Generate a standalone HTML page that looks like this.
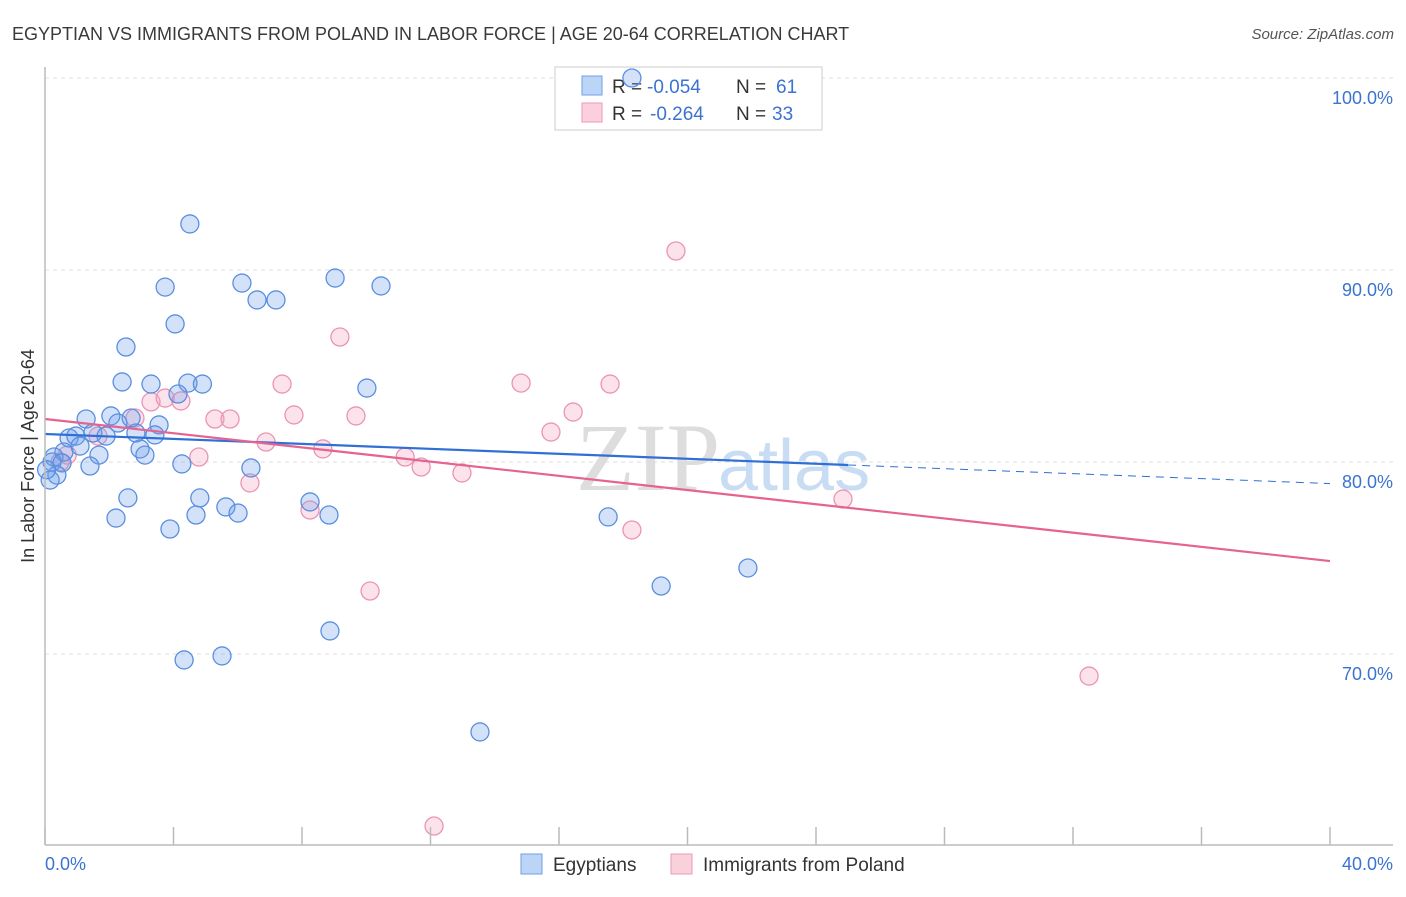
<!DOCTYPE html>
<html><head><meta charset="utf-8"><style>
body{margin:0;background:#fff;font-family:"Liberation Sans",sans-serif;}
</style></head><body>
<svg id="chart" width="1406" height="892" xmlns="http://www.w3.org/2000/svg">
<text x="12" y="40" font-size="18" fill="#3a3a3a">EGYPTIAN VS IMMIGRANTS FROM POLAND IN LABOR FORCE | AGE 20-64 CORRELATION CHART</text>
<text x="1394" y="39" font-size="15" fill="#555" font-style="italic" text-anchor="end">Source: ZipAtlas.com</text>
<g id="grid"></g>
<text x="720" y="490" font-size="96" fill="#ddd" text-anchor="end" font-family="Liberation Serif,serif">ZIP</text>
<text x="718" y="490" font-size="72" fill="#c8dcf3">atlas</text>
<g>
<rect x="555" y="67" width="267" height="63" fill="#fff" stroke="#ccc"/>
<rect x="582" y="76" width="20" height="19" fill="#bcd4f5" stroke="#6f9fe6"/>
<rect x="582" y="103" width="20" height="19" fill="#fbd0dd" stroke="#ee9ab6"/>
<text x="612" y="93" font-size="19" fill="#333">R = <tspan fill="#3b73d1" x="647">-0.054</tspan><tspan x="736">N =</tspan><tspan fill="#3b73d1" x="776">61</tspan></text>
<text x="612" y="120" font-size="19" fill="#333">R = <tspan fill="#3b73d1" x="650">-0.264</tspan><tspan x="736">N =</tspan><tspan fill="#3b73d1" x="772">33</tspan></text>
</g>
<g id="marks"></g>
<line x1="45" y1="67" x2="45" y2="845" stroke="#bbb" stroke-width="1.5"/>
<line x1="45" y1="845" x2="1393" y2="845" stroke="#bbb" stroke-width="1.5"/>
<text transform="translate(34,456) rotate(-90)" font-size="18" fill="#333" text-anchor="middle">In Labor Force | Age 20-64</text>
<text x="45" y="870" font-size="18" fill="#3b73d1">0.0%</text>
<text x="1393" y="870" font-size="18" fill="#3b73d1" text-anchor="end">40.0%</text>
<g>
<rect x="521" y="854" width="21" height="20" fill="#bcd4f5" stroke="#6f9fe6"/>
<text x="553" y="871" font-size="19" fill="#333">Egyptians</text>
<rect x="671" y="854" width="21" height="20" fill="#fbd0dd" stroke="#ee9ab6"/>
<text x="703" y="871" font-size="19" fill="#333">Immigrants from Poland</text>
</g>
</svg>
<script>
const yTicks=[70,80,90,100];
const yTickLabels=["70.0%","80.0%","90.0%","100.0%"];
const xTicks=[0,4,8,12,16,20,24,28,32,36,40];
const blueX=[18.27,4.51,3.74,6.13,6.60,7.19,9.03,10.46,4.05,2.52,2.40,3.30,4.45,4.90,4.14,10.02,1.28,2.05,2.68,3.55,2.27,0.75,0.96,1.49,1.90,2.83,3.42,1.09,0.59,0.28,1.68,2.96,3.11,0.22,0.53,1.40,4.26,6.41,0.37,0.16,2.58,4.82,8.25,5.63,6.01,4.70,2.21,8.84,17.53,3.89,19.18,21.88,8.87,4.33,5.51,13.54,0.05];
const blueY=[100.0,92.40,89.11,89.32,88.44,88.44,89.58,89.17,87.19,85.99,84.17,84.06,84.11,84.06,83.54,83.85,82.24,82.40,82.29,81.93,82.03,81.25,81.35,81.51,81.35,81.51,81.41,80.83,80.52,80.26,80.36,80.68,80.36,80.00,79.95,79.79,79.90,79.69,79.32,79.06,78.13,78.13,77.92,77.66,77.34,77.24,77.08,77.24,77.14,76.51,73.54,74.48,71.20,69.69,69.90,65.94,79.6];
const pinkX=[19.64,9.18,7.38,14.82,17.59,3.30,3.74,4.23,7.75,9.68,5.29,5.76,16.44,15.75,2.80,1.65,6.88,8.65,4.79,11.21,11.71,12.98,6.38,24.84,8.25,18.27,10.12,32.50,12.11,0.47,0.69];
const pinkY=[90.99,86.51,84.06,84.11,84.06,83.13,83.33,83.18,82.45,82.40,82.24,82.24,82.60,81.56,82.29,81.35,81.04,80.68,80.26,80.26,79.74,79.43,78.91,78.07,77.50,76.46,73.28,68.85,61.04,80.0,80.36];
const blueTrend=[81.46,-0.0646];
const pinkTrend=[82.24,-0.185];
const NS="http://www.w3.org/2000/svg";
const X=v=>45+v/40*1285, Y=v=>78+(100-v)*19.2;
const grid=document.getElementById('grid'), marks=document.getElementById('marks'), svg=document.getElementById('chart');
function mk(t,a,p){const e=document.createElementNS(NS,t);for(const k in a)e.setAttribute(k,a[k]);p.appendChild(e);return e;}
yTicks.forEach((t,i)=>{
 const l=mk('line',{x1:45,x2:1393,y1:Y(t),y2:Y(t),stroke:'#ddd','stroke-dasharray':'4,4'},grid);
 
 
 const tx=mk('text',{x:1393,y:Y(t)+26,'font-size':18,fill:'#3b73d1','text-anchor':'end'},svg);
 tx.textContent=yTickLabels[i];
 
 
});
xTicks.forEach(t=>{
 const l=mk('line',{x1:X(t),x2:X(t),y1:827,y2:845,stroke:'#bbb','stroke-width':1.5},svg);
 
 
});
function pts(xs,ys,fill,stroke,name){xs.forEach((x,i)=>{
 const c=mk('circle',{cx:X(x),cy:Y(ys[i]),r:9,fill:fill,stroke:stroke,'stroke-width':1.3},marks);
 
 
});}
pts(pinkX,pinkY,'rgba(244,160,190,0.3)','#eb94b3','poland-point');
pts(blueX,blueY,'rgba(110,160,235,0.3)','#5a8fe0','egyptian-point');
const b1=mk('line',{x1:X(0),y1:Y(blueTrend[0]),x2:X(25),y2:Y(blueTrend[0]+blueTrend[1]*25),stroke:'#2f6fd6','stroke-width':2.2},marks);


const b2=mk('line',{x1:X(25),y1:Y(blueTrend[0]+blueTrend[1]*25),x2:X(40),y2:Y(blueTrend[0]+blueTrend[1]*40),stroke:'#2f6fd6','stroke-width':1,'stroke-dasharray':'8,6'},marks);


const p1=mk('line',{x1:X(0),y1:Y(pinkTrend[0]),x2:X(40),y2:Y(pinkTrend[0]+pinkTrend[1]*40),stroke:'#e5638f','stroke-width':2.2},marks);


</script>
</body></html>
